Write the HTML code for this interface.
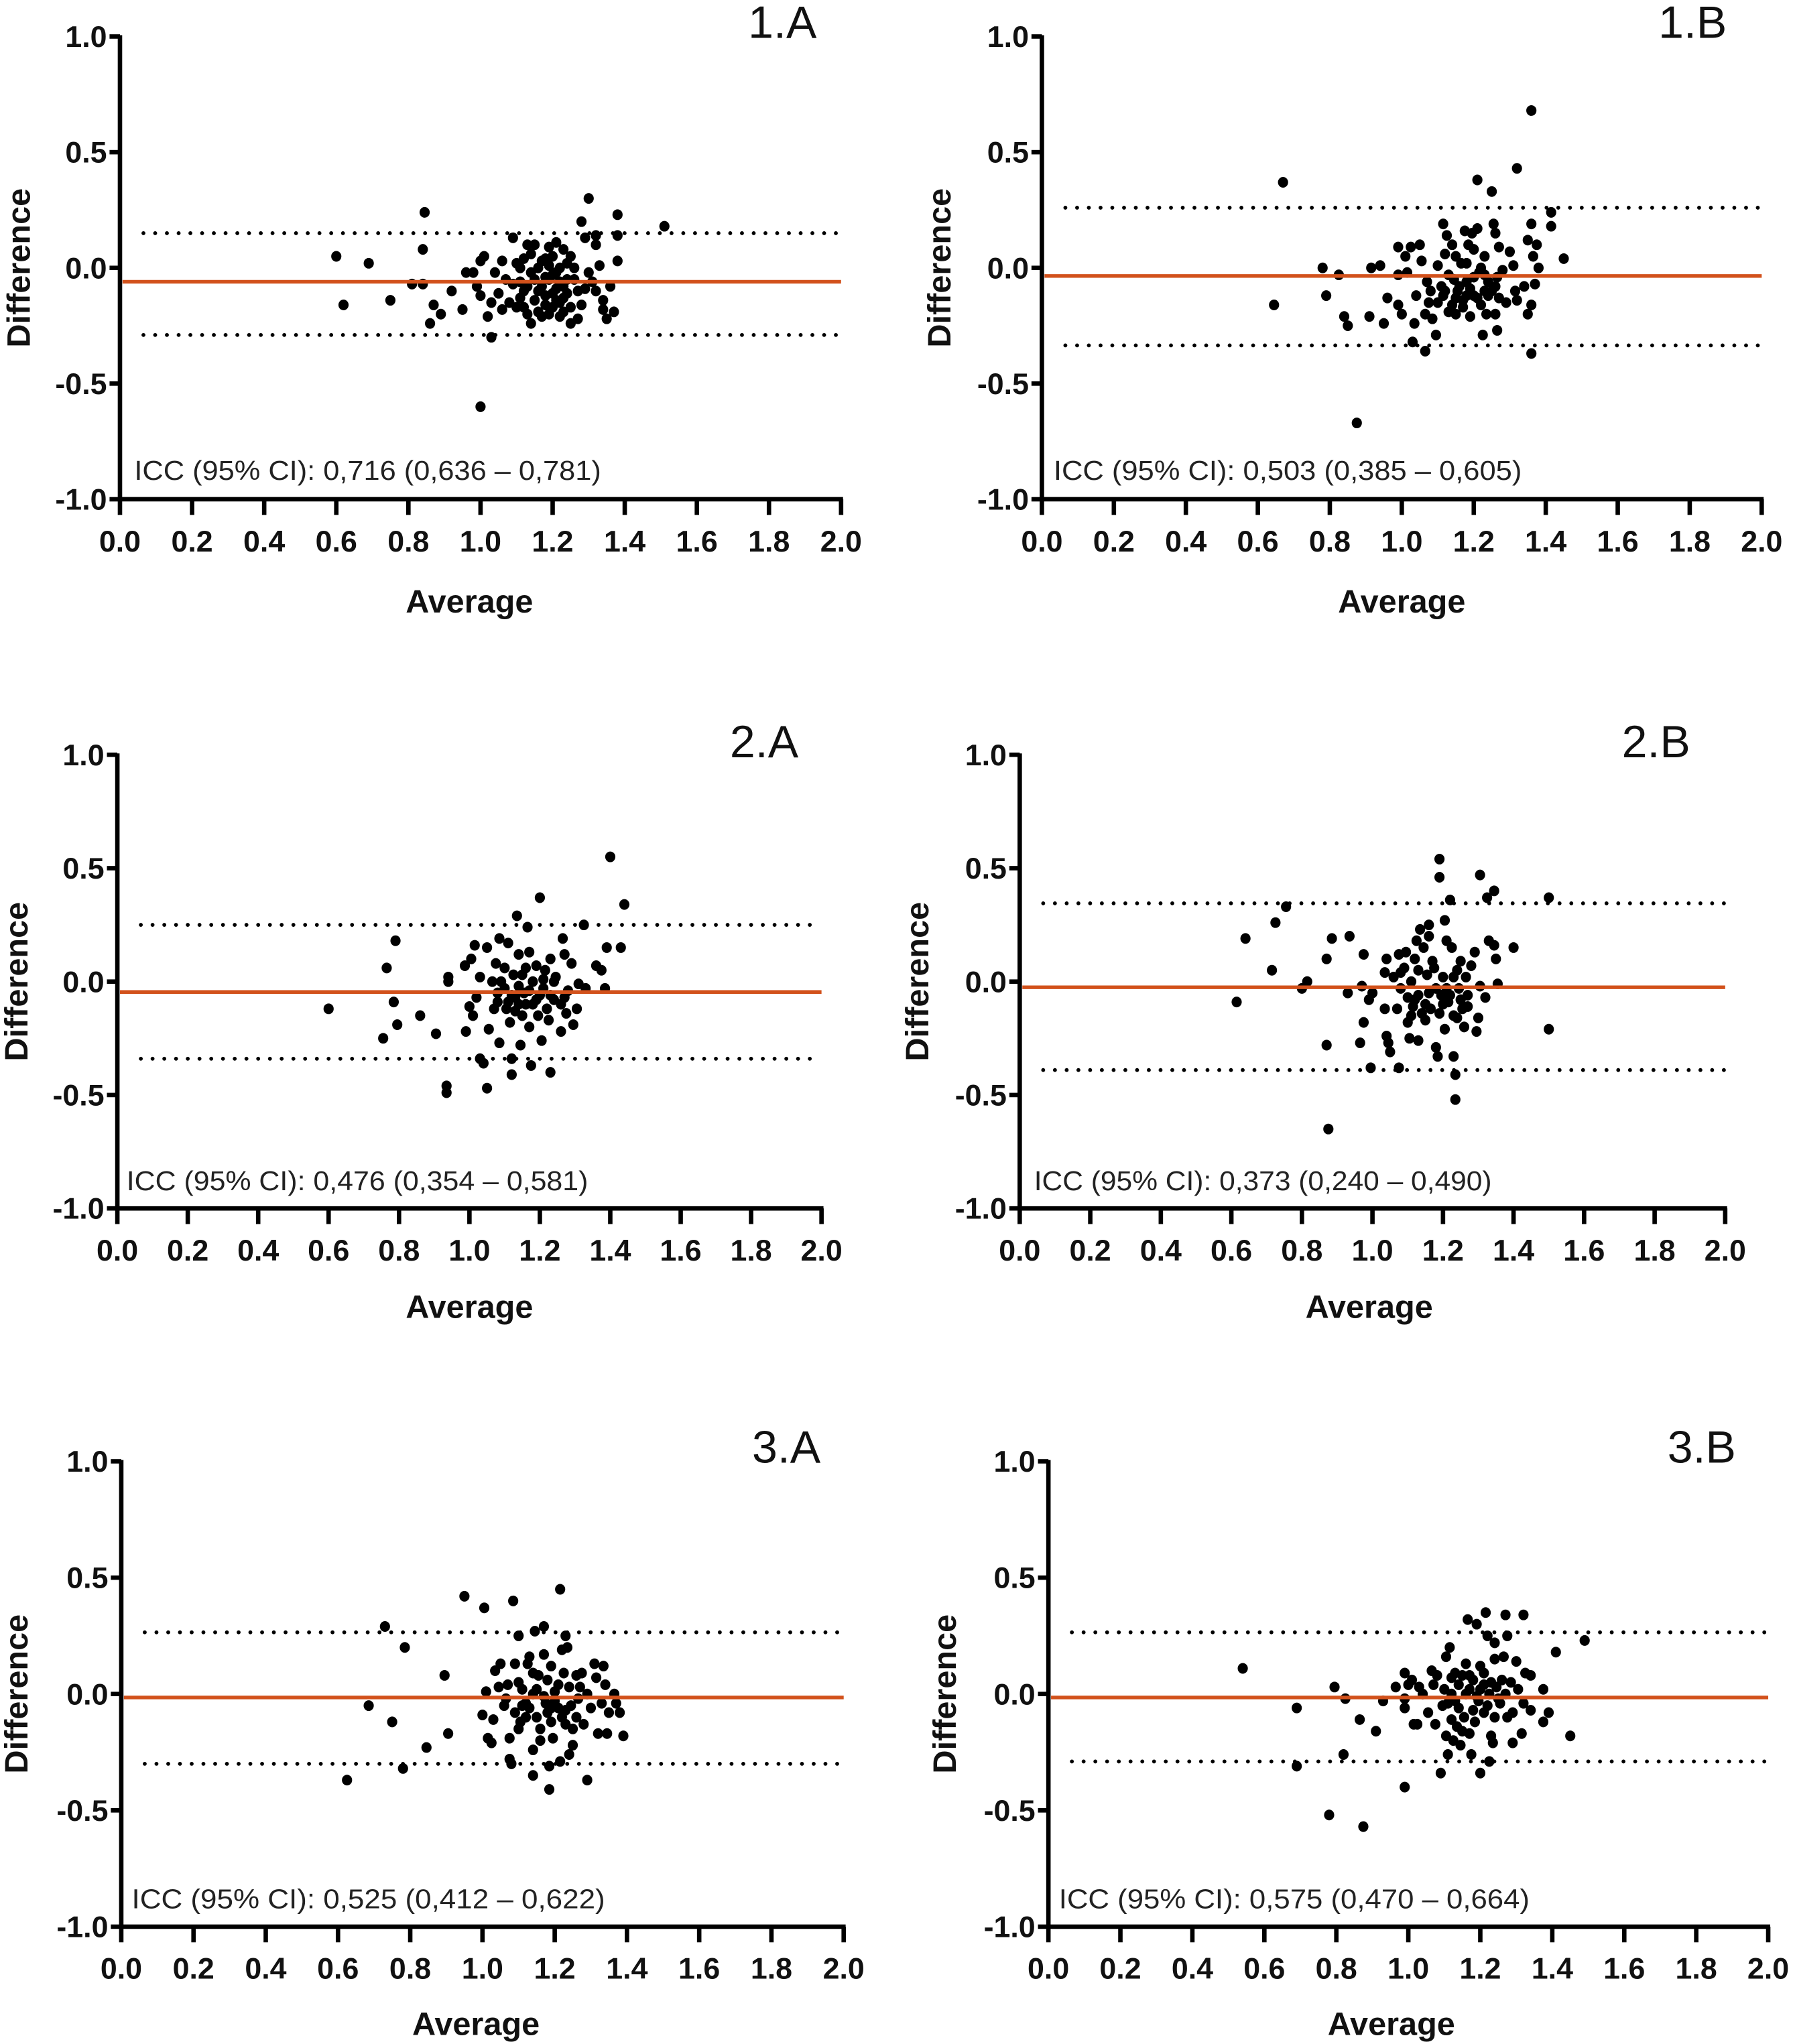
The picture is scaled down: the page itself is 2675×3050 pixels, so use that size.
<!DOCTYPE html>
<html><head><meta charset="utf-8"><style>
html,body{margin:0;padding:0;background:#fff;}
svg{display:block;}
.tick{font-family:"Liberation Sans",sans-serif;font-weight:bold;font-size:23px;fill:#111;}
.ttl{font-family:"Liberation Sans",sans-serif;font-weight:bold;font-size:25px;fill:#111;}
.icc{font-family:"Liberation Sans",sans-serif;font-size:21px;fill:#222;}
.pl{font-family:"Liberation Sans",sans-serif;font-size:35px;fill:#111;}
</style></head><body>
<svg id="fig" width="2675" height="3050" viewBox="0 0 1375 1568" preserveAspectRatio="none" xmlns="http://www.w3.org/2000/svg"></svg>
<script>
const xTicks=["0.0","0.2","0.4","0.6","0.8","1.0","1.2","1.4","1.6","1.8","2.0"];
const yTicks=["1.0","0.5","0.0","-0.5","-1.0"];
const panelNames=["1.A","1.B","2.A","2.B","3.A","3.B"];
const iccTexts=["ICC (95% CI): 0,716 (0,636 \u2013 0,781)","ICC (95% CI):  0,503 (0,385 \u2013 0,605)","ICC (95% CI): 0,476 (0,354 \u2013 0,581)","ICC (95% CI): 0,373 (0,240 \u2013 0,490)","ICC (95% CI):  0,525 (0,412 \u2013 0,622)","ICC (95% CI):  0,575 (0,470 \u2013 0,664)"];
const meanDiff=[-0.06,-0.035,-0.046,-0.025,-0.015,-0.015];
const upperLoA=[0.15,0.26,0.25,0.345,0.265,0.265];
const lowerLoA=[-0.29,-0.335,-0.34,-0.39,-0.30,-0.29];
const pts1A=[[0.6,0.05],[0.62,-0.16],[0.69,0.02],[0.75,-0.14],[0.81,-0.07],[0.84,0.08],[0.84,-0.07],[0.845,0.24],[0.86,-0.24],[0.87,-0.16],[0.89,-0.2],[0.92,-0.1],[0.95,-0.18],[0.96,-0.02],[0.98,-0.02],[0.99,-0.08],[1.0,-0.12],[1.0,0.03],[1.01,0.05],[1.0,-0.6],[1.02,-0.21],[1.03,-0.3],[1.03,-0.15],[1.04,-0.02],[1.05,-0.11],[1.06,-0.18],[1.06,0.03],[1.07,-0.05],[1.08,-0.15],[1.09,0.13],[1.1,-0.17],[1.1,0.02],[1.11,-0.06],[1.12,-0.1],[1.12,0.04],[1.13,0.1],[1.13,-0.2],[1.14,-0.24],[1.15,0.1],[1.15,-0.05],[1.15,-0.14],[1.16,0.0],[1.17,-0.08],[1.17,-0.21],[1.18,0.04],[1.18,-0.12],[1.19,0.09],[1.2,-0.03],[1.2,-0.17],[1.2,0.05],[1.21,0.11],[1.21,-0.09],[1.22,-0.21],[1.22,0.0],[1.23,0.08],[1.23,-0.13],[1.24,-0.05],[1.24,0.02],[1.25,-0.17],[1.25,-0.24],[1.26,0.0],[1.27,-0.1],[1.27,-0.22],[1.28,-0.16],[1.29,-0.09],[1.28,0.2],[1.29,0.13],[1.3,0.3],[1.3,-0.02],[1.31,-0.06],[1.32,0.1],[1.32,0.14],[1.32,-0.1],[1.33,0.01],[1.34,-0.18],[1.34,-0.14],[1.35,-0.22],[1.36,-0.08],[1.37,-0.19],[1.38,0.23],[1.38,0.14],[1.38,0.03],[1.51,0.18],[1.09,-0.07],[1.11,-0.13],[1.14,-0.02],[1.16,-0.1],[1.18,-0.16],[1.19,-0.05],[1.21,-0.14],[1.22,-0.06],[1.24,-0.11],[1.26,-0.05],[1.12,-0.17],[1.17,0.03],[1.19,-0.2],[1.23,-0.19],[1.25,0.05],[1.13,-0.08],[1.2,-0.11],[1.14,0.06],[1.16,-0.19],[1.18,-0.04],[1.21,-0.02],[1.23,-0.08],[1.11,0.0],[1.19,0.01],[1.22,-0.15]];
const pts1B=[[0.67,0.37],[0.645,-0.16],[0.78,0.0],[0.79,-0.12],[0.825,-0.03],[0.84,-0.21],[0.85,-0.25],[0.875,-0.67],[0.91,-0.21],[0.915,0.0],[0.94,0.01],[0.95,-0.24],[0.96,-0.13],[0.99,-0.03],[0.99,0.09],[0.99,-0.16],[1.0,-0.2],[1.01,0.05],[1.015,-0.02],[1.025,0.09],[1.03,-0.32],[1.035,-0.24],[1.04,-0.12],[1.05,0.1],[1.055,0.03],[1.065,-0.36],[1.065,-0.2],[1.07,-0.06],[1.075,-0.15],[1.085,-0.22],[1.095,-0.29],[1.1,0.01],[1.11,-0.08],[1.115,0.19],[1.115,-0.12],[1.125,0.14],[1.13,-0.19],[1.14,0.1],[1.145,-0.05],[1.15,0.05],[1.15,-0.2],[1.155,-0.1],[1.165,0.02],[1.17,-0.14],[1.175,0.16],[1.18,-0.06],[1.185,0.1],[1.19,-0.21],[1.195,0.15],[1.2,-0.12],[1.21,0.38],[1.21,0.17],[1.215,-0.02],[1.22,-0.16],[1.225,-0.29],[1.23,-0.1],[1.23,0.05],[1.235,-0.2],[1.24,-0.06],[1.25,0.33],[1.255,0.19],[1.26,-0.2],[1.26,0.15],[1.265,-0.27],[1.265,-0.04],[1.27,0.09],[1.27,-0.13],[1.28,-0.01],[1.29,-0.15],[1.3,0.07],[1.31,0.01],[1.315,-0.1],[1.32,0.43],[1.32,-0.14],[1.34,-0.08],[1.35,0.12],[1.35,-0.2],[1.36,0.68],[1.36,0.19],[1.36,-0.37],[1.36,-0.16],[1.365,0.05],[1.37,-0.07],[1.375,0.1],[1.38,0.0],[1.415,0.24],[1.415,0.18],[1.45,0.04],[1.12,-0.1],[1.16,-0.08],[1.18,-0.12],[1.2,-0.04],[1.22,0.0],[1.14,-0.16],[1.08,-0.1],[1.1,-0.15],[1.24,-0.12],[1.26,-0.08],[1.18,0.02],[1.2,0.08],[1.13,-0.03],[1.17,-0.17],[1.19,-0.09],[1.21,-0.13],[1.23,-0.03],[1.15,-0.13],[1.25,-0.1],[1.12,0.06]];
const pts2A=[[0.6,-0.12],[0.755,-0.25],[0.765,0.06],[0.785,-0.09],[0.79,0.18],[0.795,-0.19],[0.86,-0.15],[0.905,-0.23],[0.935,-0.46],[0.935,-0.49],[0.94,0.02],[0.94,0.0],[0.987,0.07],[0.99,-0.22],[1.0,-0.11],[1.005,0.1],[1.01,-0.15],[1.015,0.16],[1.02,-0.07],[1.03,-0.34],[1.03,0.02],[1.04,-0.36],[1.05,0.15],[1.05,-0.47],[1.055,-0.21],[1.065,0.0],[1.07,-0.12],[1.075,0.08],[1.08,-0.05],[1.085,0.19],[1.085,-0.27],[1.1,0.06],[1.105,-0.12],[1.11,0.17],[1.115,-0.18],[1.12,-0.34],[1.12,-0.41],[1.125,0.03],[1.13,-0.07],[1.135,0.29],[1.14,0.12],[1.145,-0.28],[1.15,-0.15],[1.155,-0.05],[1.16,0.06],[1.165,0.24],[1.17,-0.2],[1.17,0.13],[1.175,-0.37],[1.18,-0.1],[1.19,0.07],[1.195,-0.15],[1.2,0.37],[1.205,-0.26],[1.21,-0.03],[1.215,0.05],[1.225,-0.17],[1.23,0.1],[1.23,-0.4],[1.24,-0.08],[1.245,0.02],[1.26,-0.22],[1.265,0.19],[1.27,0.12],[1.275,-0.14],[1.28,-0.04],[1.29,0.08],[1.295,-0.19],[1.305,-0.12],[1.31,-0.01],[1.325,0.25],[1.33,-0.03],[1.36,0.07],[1.375,0.05],[1.385,-0.03],[1.39,0.15],[1.4,0.55],[1.43,0.15],[1.44,0.34],[1.1,-0.03],[1.12,-0.06],[1.14,-0.02],[1.16,-0.1],[1.18,0.0],[1.2,-0.06],[1.22,-0.12],[1.15,0.03],[1.13,-0.13],[1.08,-0.09],[1.24,0.0],[1.26,-0.1],[1.11,-0.09],[1.17,-0.04],[1.19,-0.08],[1.21,0.01],[1.14,-0.1],[1.23,-0.06],[1.09,0.0],[1.27,-0.07]];
const pts2B=[[0.615,-0.09],[0.64,0.19],[0.715,0.05],[0.725,0.26],[0.755,0.33],[0.8,-0.03],[0.815,0.0],[0.87,0.1],[0.87,-0.28],[0.875,-0.65],[0.885,0.19],[0.93,-0.05],[0.935,0.2],[0.965,-0.27],[0.97,-0.02],[0.975,0.12],[0.975,-0.18],[0.99,-0.08],[0.995,-0.38],[1.0,-0.05],[1.035,0.04],[1.035,-0.12],[1.04,0.1],[1.04,-0.24],[1.045,-0.27],[1.05,-0.31],[1.06,0.02],[1.07,-0.12],[1.075,-0.38],[1.075,0.12],[1.08,-0.03],[1.09,0.06],[1.095,0.13],[1.1,-0.18],[1.105,-0.25],[1.11,0.0],[1.115,-0.11],[1.12,0.1],[1.125,0.18],[1.13,-0.26],[1.13,-0.06],[1.135,0.23],[1.145,0.15],[1.15,-0.17],[1.155,0.03],[1.16,0.25],[1.16,0.2],[1.165,-0.12],[1.175,0.06],[1.18,-0.29],[1.185,-0.33],[1.19,0.54],[1.19,0.46],[1.195,-0.06],[1.2,0.02],[1.205,0.27],[1.205,-0.21],[1.21,0.18],[1.215,-0.09],[1.22,0.36],[1.225,0.15],[1.23,-0.15],[1.23,-0.33],[1.235,-0.41],[1.235,-0.52],[1.24,0.05],[1.245,-0.03],[1.25,0.09],[1.255,-0.12],[1.26,-0.2],[1.265,0.02],[1.27,-0.06],[1.28,0.07],[1.29,0.13],[1.295,-0.22],[1.3,-0.16],[1.305,0.47],[1.305,-0.02],[1.32,-0.07],[1.325,0.37],[1.33,0.18],[1.345,0.4],[1.345,0.16],[1.35,0.1],[1.355,-0.01],[1.4,0.15],[1.5,0.37],[1.5,-0.21],[1.12,-0.08],[1.15,-0.1],[1.18,-0.03],[1.2,-0.1],[1.22,-0.06],[1.1,-0.07],[1.14,-0.14],[1.25,-0.08],[1.08,0.04],[1.17,0.09],[1.13,0.05],[1.16,-0.05],[1.19,-0.14],[1.21,-0.03],[1.24,-0.16],[1.27,-0.11],[1.11,-0.15],[1.23,0.02]];
const pts3A=[[0.625,-0.37],[0.685,-0.05],[0.73,0.29],[0.75,-0.12],[0.78,-0.32],[0.785,0.2],[0.845,-0.23],[0.895,0.08],[0.905,-0.17],[0.95,0.42],[1.0,-0.09],[1.005,0.37],[1.01,0.01],[1.015,-0.19],[1.025,-0.21],[1.03,-0.11],[1.035,0.1],[1.045,0.03],[1.05,0.13],[1.06,-0.05],[1.065,-0.02],[1.07,0.04],[1.075,-0.28],[1.075,-0.19],[1.08,-0.3],[1.085,0.4],[1.09,0.13],[1.09,-0.08],[1.1,0.25],[1.1,-0.15],[1.105,-0.12],[1.11,0.02],[1.12,-0.04],[1.125,0.13],[1.13,0.16],[1.14,-0.24],[1.14,-0.35],[1.14,0.0],[1.145,0.27],[1.15,-0.1],[1.155,0.08],[1.16,-0.2],[1.17,0.17],[1.17,0.29],[1.175,-0.04],[1.18,0.06],[1.185,-0.31],[1.185,-0.41],[1.19,-0.12],[1.19,0.12],[1.195,-0.19],[1.2,0.01],[1.21,-0.06],[1.215,0.45],[1.215,-0.29],[1.22,0.19],[1.225,0.09],[1.23,0.25],[1.23,-0.13],[1.235,0.2],[1.24,-0.26],[1.245,-0.05],[1.25,-0.22],[1.26,0.08],[1.265,-0.02],[1.275,0.09],[1.28,-0.13],[1.29,-0.37],[1.29,0.0],[1.3,-0.06],[1.31,0.13],[1.315,0.07],[1.32,-0.17],[1.33,-0.04],[1.335,0.12],[1.34,0.04],[1.345,-0.17],[1.35,-0.08],[1.365,0.0],[1.37,-0.04],[1.38,-0.08],[1.39,-0.18],[1.12,-0.1],[1.15,0.02],[1.18,-0.08],[1.2,-0.03],[1.22,-0.1],[1.24,0.03],[1.16,-0.15],[1.26,-0.1],[1.1,0.05],[1.13,-0.06],[1.17,-0.01],[1.19,-0.06],[1.21,0.04],[1.23,-0.07],[1.14,0.09],[1.25,-0.15],[1.11,-0.05],[1.27,0.03]];
const pts3B=[[0.54,0.11],[0.69,-0.06],[0.69,-0.31],[0.78,-0.52],[0.795,0.03],[0.82,-0.26],[0.825,-0.02],[0.865,-0.11],[0.875,-0.57],[0.91,-0.16],[0.93,-0.03],[0.965,0.03],[0.99,0.09],[0.99,-0.06],[0.99,-0.4],[0.99,-0.02],[1.0,0.04],[1.01,0.06],[1.015,-0.13],[1.025,-0.13],[1.03,0.03],[1.04,0.0],[1.055,-0.08],[1.065,0.1],[1.07,0.04],[1.075,-0.13],[1.08,0.08],[1.09,-0.34],[1.095,-0.05],[1.1,0.02],[1.105,-0.18],[1.105,0.16],[1.11,-0.26],[1.115,0.2],[1.12,-0.11],[1.12,0.07],[1.125,-0.2],[1.13,-0.03],[1.135,-0.14],[1.14,0.04],[1.145,-0.22],[1.15,0.08],[1.155,-0.1],[1.16,0.13],[1.165,0.32],[1.17,-0.17],[1.17,0.02],[1.175,-0.26],[1.18,0.06],[1.185,-0.12],[1.19,0.3],[1.195,-0.03],[1.2,-0.34],[1.2,0.12],[1.21,-0.08],[1.21,0.04],[1.215,0.35],[1.22,0.25],[1.225,-0.29],[1.225,0.0],[1.23,-0.18],[1.235,-0.21],[1.24,0.22],[1.24,0.15],[1.245,0.03],[1.255,-0.04],[1.26,0.06],[1.265,0.16],[1.27,0.34],[1.275,-0.1],[1.275,0.25],[1.285,0.05],[1.29,-0.21],[1.29,-0.08],[1.3,0.14],[1.305,0.02],[1.315,-0.17],[1.32,-0.04],[1.32,0.34],[1.325,0.09],[1.34,0.08],[1.34,-0.07],[1.375,0.02],[1.375,-0.12],[1.39,-0.08],[1.41,0.18],[1.45,-0.18],[1.49,0.23],[1.14,-0.06],[1.16,0.0],[1.18,-0.07],[1.2,0.02],[1.22,-0.05],[1.12,0.0],[1.24,-0.1],[1.17,0.08],[1.13,0.09],[1.15,-0.16],[1.19,-0.01],[1.21,0.09],[1.23,0.05],[1.25,-0.02],[1.27,0.0],[1.11,-0.04]];
const allPts=[pts1A,pts1B,pts2A,pts2B,pts3A,pts3B];

const layouts=[
 {x0:92,x1:645,yt:28,yb:383,diffX:14,avgX:360,avgY:470,lblX:600,lblY:29,iccX:103,iccY:368,iccW:358},
 {x0:799,x1:1351,yt:28,yb:383,diffX:720,avgX:1075,avgY:470,lblX:1298,lblY:29,iccX:808,iccY:368,iccW:359},
 {x0:90,x1:630,yt:579,yb:927,diffX:12,avgX:360,avgY:1011,lblX:586,lblY:581,iccX:97,iccY:913,iccW:354},
 {x0:782,x1:1323,yt:579,yb:927,diffX:703,avgX:1050,avgY:1011,lblX:1270,lblY:581,iccX:793,iccY:913,iccW:351},
 {x0:93,x1:647,yt:1121,yb:1478,diffX:12,avgX:365,avgY:1561,lblX:603,lblY:1122,iccX:101,iccY:1464,iccW:363},
 {x0:804,x1:1356,yt:1121,yb:1478,diffX:724,avgX:1067,avgY:1561,lblX:1305,lblY:1122,iccX:812,iccY:1464,iccW:361}
];
const NS="http://www.w3.org/2000/svg";
const svg=document.getElementById('fig');
function mk(tag,attrs,parent){const e=document.createElementNS(NS,tag);for(const k in attrs)e.setAttribute(k,attrs[k]);parent.appendChild(e);return e;}

layouts.forEach((L,i)=>{
  const g=mk('g',{},svg);
  
  
  const sx=v=>L.x0+(L.x1-L.x0)*v/2;
  const sy=v=>L.yt+(L.yb-L.yt)*(1-v)/2;
  [upperLoA[i],lowerLoA[i]].forEach((v,j)=>{
    const l=mk('line',{x1:L.x0+18,x2:L.x1,y1:sy(v),y2:sy(v),stroke:'#000','stroke-width':3,'stroke-dasharray':'0 9','stroke-linecap':'round'},g);
    
    
  });
  allPts[i].forEach(p=>{
    const c=mk('ellipse',{cx:sx(p[0]),cy:sy(p[1]),rx:3.9,ry:4.1,fill:'#000'},g);
    
    
  });
  const m=mk('line',{x1:L.x0+2,x2:L.x1,y1:sy(meanDiff[i]),y2:sy(meanDiff[i]),stroke:'#d2511b','stroke-width':2.8},g);
  
  
  const ya=mk('line',{x1:L.x0,x2:L.x0,y1:L.yt-1,y2:L.yb+1.5,stroke:'#000','stroke-width':3.4},g);
  
  
  const xa=mk('line',{x1:L.x0-1.5,x2:L.x1+1.5,y1:L.yb,y2:L.yb,stroke:'#000','stroke-width':3.4},g);
  
  
  yTicks.forEach(t=>{
    const y=sy(parseFloat(t));
    mk('line',{x1:L.x0-8,x2:L.x0,y1:y,y2:y,stroke:'#000','stroke-width':3.4},g);
    const tx=mk('text',{x:L.x0-10,y:y+8,'text-anchor':'end',class:'tick'},g);
    tx.textContent=t;
    
    
  });
  xTicks.forEach(t=>{
    const x=sx(parseFloat(t));
    mk('line',{x1:x,x2:x,y1:L.yb,y2:L.yb+12,stroke:'#000','stroke-width':3.4},g);
    const tx=mk('text',{x:x,y:L.yb+40,'text-anchor':'middle',class:'tick'},g);
    tx.textContent=t;
    
    
  });
  const dy=sy(0);
  const dt=mk('text',{x:0,y:0,'text-anchor':'middle',class:'ttl',transform:'translate('+(L.diffX+9)+','+dy+') rotate(-90)'},g);
  dt.textContent='Difference';
  
  
  const at=mk('text',{x:L.avgX,y:L.avgY,'text-anchor':'middle',class:'ttl'},g);
  at.textContent='Average';
  
  
  const pl=mk('text',{x:L.lblX,y:L.lblY,'text-anchor':'middle',class:'pl'},g);
  pl.textContent=panelNames[i];
  
  
  const ic=mk('text',{x:L.iccX,y:L.iccY,class:'icc',textLength:L.iccW,lengthAdjust:'spacingAndGlyphs'},g);
  ic.textContent=iccTexts[i];
  
  
});
</script>
</body></html>
